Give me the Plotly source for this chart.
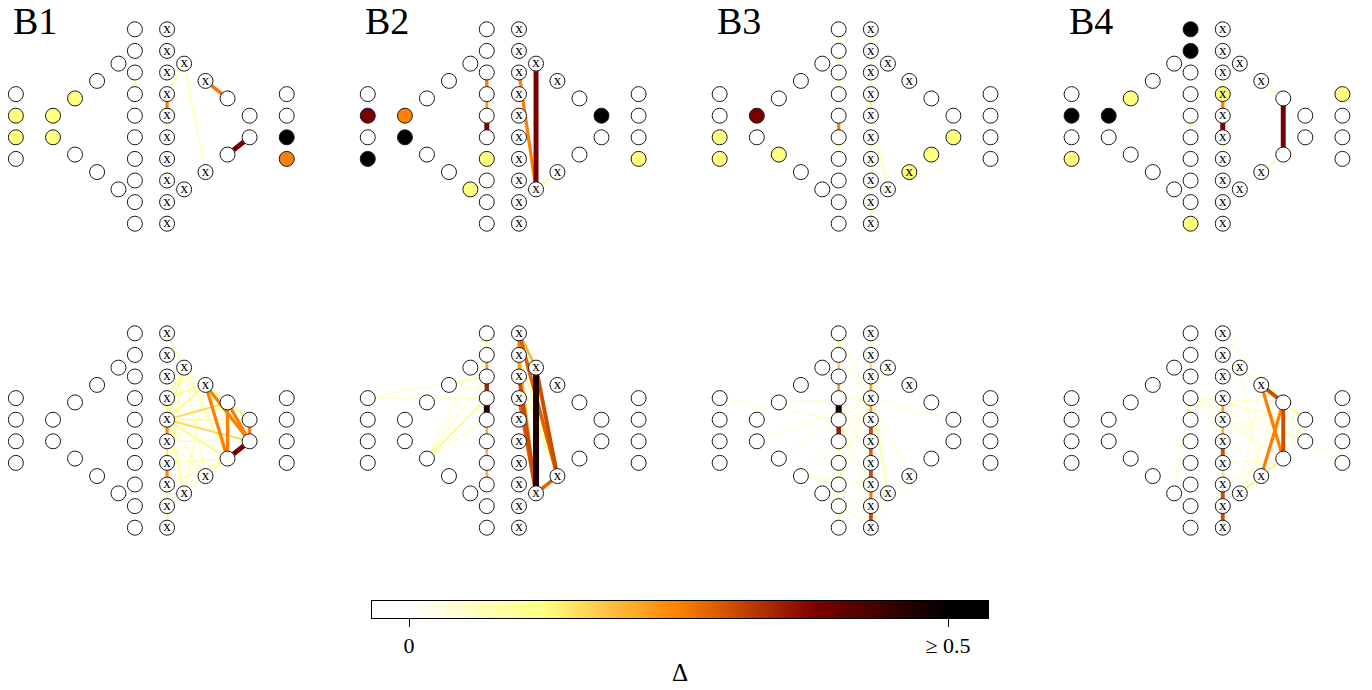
import plotly.graph_objects as go
import numpy as np

W, H = 1372, 690
FONT = "Liberation Serif"

# ---------------- node layout (layout units, y grows downward) ----------------
node_names = ['A0', 'A1', 'A2', 'A3', 'B0', 'B1',
              'Lt1', 'Lt2', 'Lt3', 'Lb1', 'Lb2', 'Lb3',
              'C0', 'C1', 'C2', 'C3', 'C4', 'C5', 'C6', 'C7', 'C8', 'C9',
              'D0', 'D1', 'D2', 'D3', 'D4', 'D5', 'D6', 'D7', 'D8', 'D9',
              'Rt3', 'Rt2', 'Rb2', 'Rb3', 'Rt1', 'Rb1', 'R0', 'R1',
              'E0', 'E1', 'E2', 'E3']
node_x = [-6.27, -6.27, -6.27, -6.27, -4.55, -4.55,
          -3.53, -2.51, -1.52, -3.53, -2.51, -1.52,
          -0.76, -0.76, -0.76, -0.76, -0.76, -0.76, -0.76, -0.76, -0.76, -0.76,
          0.73, 0.73, 0.73, 0.73, 0.73, 0.73, 0.73, 0.73, 0.73, 0.73,
          1.52, 2.51, 2.51, 1.52, 3.53, 3.53, 4.55, 4.55,
          6.27, 6.27, 6.27, 6.27]
node_y = [-1.5, -0.5, 0.5, 1.5, -0.5, 0.5,
          -1.3, -2.11, -2.91, 1.3, 2.11, 2.91,
          -4.5, -3.5, -2.5, -1.5, -0.5, 0.5, 1.5, 2.5, 3.5, 4.5,
          -4.5, -3.5, -2.5, -1.5, -0.5, 0.5, 1.5, 2.5, 3.5, 4.5,
          -2.91, -2.11, 2.11, 2.91, -1.3, 1.3, -0.5, 0.5,
          -1.5, -0.5, 0.5, 1.5]
node_is_x = ['D0', 'D1', 'D2', 'D3', 'D4', 'D5', 'D6', 'D7', 'D8', 'D9',
             'Rt3', 'Rt2', 'Rb2', 'Rb3']

# ---------------- panel data: node deltas and edge deltas ----------------
panel_labels = ['B1', 'B2', 'B3', 'B4']

b1_top_nodes = {'A1': 0.125, 'A2': 0.125, 'B0': 0.125, 'B1': 0.125, 'Lt1': 0.125,
                'E2': 0.5, 'E3': 0.25}
b1_top_edges = [('C2', 'C3', 0.1), ('D3', 'D4', 0.25), ('D4', 'D5', 0.1), ('D6', 'D7', 0.1),
                ('Rt3', 'D3', 0.1), ('Rt3', 'Rb2', 0.1), ('Rt2', 'Rt1', 0.26),
                ('R0', 'R1', 0.1), ('R1', 'Rb1', 0.38)]

b1_bot_nodes = {}
b1_bot_edges = [('C0', 'C1', 0.08), ('C2', 'C3', 0.08), ('D0', 'Rt3', 0.1),
                ('D3', 'D4', 0.13), ('D4', 'D5', 0.24), ('D5', 'D6', 0.15), ('D6', 'D7', 0.24),
                ('D7', 'D8', 0.13), ('D8', 'D9', 0.11),
                ('Rt3', 'D2', 0.1), ('Rt3', 'D3', 0.12), ('Rt3', 'D4', 0.13), ('Rt3', 'D6', 0.09),
                ('Rt3', 'D7', 0.09), ('Rt3', 'Rb2', 0.09), ('Rt3', 'Rb1', 0.11), ('Rt3', 'R1', 0.09),
                ('Rt2', 'D3', 0.12), ('Rt2', 'D4', 0.13), ('Rt2', 'Rb1', 0.25), ('Rt2', 'R1', 0.25),
                ('Rt2', 'Rt1', 0.12), ('Rt1', 'Rb1', 0.25), ('Rt1', 'R1', 0.25), ('Rt1', 'R0', 0.13),
                ('Rt1', 'D4', 0.16), ('D4', 'R1', 0.16), ('D4', 'R0', 0.12), ('D4', 'Rb1', 0.13),
                ('D4', 'Rb3', 0.1), ('D4', 'Rb2', 0.09), ('D5', 'R1', 0.1), ('D6', 'Rb1', 0.09),
                ('D7', 'Rb1', 0.1), ('D5', 'Rt1', 0.09), ('Rb3', 'Rb1', 0.09), ('Rb3', 'D3', 0.09),
                ('Rb2', 'Rb1', 0.1), ('Rb2', 'D5', 0.09), ('Rb3', 'Rt2', 0.09), ('Rb1', 'D8', 0.09),
                ('R0', 'R1', 0.25), ('R1', 'Rb1', 0.38), ('R1', 'E1', 0.07)]

b2_top_nodes = {'A1': 0.38, 'A3': 0.5, 'B0': 0.25, 'B1': 0.5, 'C6': 0.125, 'Lb3': 0.125,
                'R0': 0.5, 'E3': 0.125}
b2_top_edges = [('C2', 'C3', 0.25), ('C3', 'C4', 0.22), ('C4', 'C5', 0.38),
                ('D2', 'Rb3', 0.25), ('Rt3', 'Rb3', 0.38), ('Rb3', 'Rb2', 0.12)]

b2_bot_nodes = {}
b2_bot_edges = [('A0', 'C2', 0.07), ('A0', 'C3', 0.07), ('Lt2', 'C2', 0.07),
                ('Lb1', 'C0', 0.07), ('Lb1', 'C1', 0.07), ('Lb1', 'C2', 0.08), ('Lb1', 'C3', 0.13),
                ('Lb1', 'C4', 0.08),
                ('C0', 'C1', 0.12), ('C1', 'C2', 0.22), ('C2', 'C3', 0.34), ('C3', 'C4', 0.46),
                ('C4', 'C5', 0.2), ('C5', 'C6', 0.2), ('C6', 'C7', 0.2),
                ('D0', 'D1', 0.25), ('D1', 'D2', 0.22), ('D0', 'Rt3', 0.2), ('D1', 'Rt3', 0.15),
                ('D0', 'Rb2', 0.28), ('D1', 'Rb2', 0.12), ('D2', 'Rb2', 0.12), ('D1', 'Rb3', 0.2),
                ('D2', 'Rb3', 0.3), ('D3', 'Rb3', 0.28), ('Rt3', 'Rb3', 0.47), ('Rt3', 'Rb2', 0.3),
                ('Rb3', 'Rb2', 0.28)]

b3_top_nodes = {'A2': 0.125, 'A3': 0.125, 'B0': 0.38, 'Lb1': 0.125, 'Rb2': 0.125,
                'Rb1': 0.125, 'R1': 0.125}
b3_top_edges = [('C0', 'C1', 0.1), ('C1', 'C2', 0.1), ('C2', 'C3', 0.1), ('C4', 'C5', 0.25),
                ('C5', 'C6', 0.1), ('D0', 'D1', 0.1), ('D1', 'D2', 0.1), ('D2', 'D3', 0.1),
                ('D3', 'D4', 0.14), ('D5', 'D6', 0.1), ('D6', 'D7', 0.1), ('D7', 'D8', 0.1),
                ('D8', 'D9', 0.1), ('D4', 'Rb3', 0.1)]

b3_bot_nodes = {}
b3_bot_edges = [('A0', 'C4', 0.06), ('Lt1', 'D3', 0.06), ('B1', 'D3', 0.06), ('Lb1', 'D3', 0.06),
                ('Lb2', 'D3', 0.06), ('Lb2', 'D7', 0.06), ('Lb3', 'D9', 0.06), ('Lb2', 'C7', 0.06),
                ('C0', 'D3', 0.06), ('C1', 'D3', 0.06), ('C2', 'D3', 0.06), ('C5', 'D3', 0.06),
                ('C6', 'D3', 0.06), ('C7', 'D3', 0.06), ('C7', 'D9', 0.06), ('C8', 'D9', 0.06),
                ('C6', 'D8', 0.06), ('C4', 'D7', 0.06), ('C3', 'D6', 0.06), ('C4', 'D8', 0.06),
                ('D3', 'R0', 0.06), ('D3', 'Rb2', 0.06), ('D3', 'Rb3', 0.1), ('D2', 'Rb3', 0.08),
                ('D3', 'Rt3', 0.06), ('Rb2', 'D9', 0.06), ('Rb3', 'D9', 0.06),
                ('C0', 'C1', 0.12), ('C1', 'C2', 0.18), ('C2', 'C3', 0.22), ('C3', 'C4', 0.48),
                ('C4', 'C5', 0.35), ('C5', 'C6', 0.12), ('C6', 'C7', 0.12), ('C7', 'C8', 0.1),
                ('C8', 'C9', 0.1),
                ('D0', 'D1', 0.12), ('D1', 'D2', 0.16), ('D2', 'D3', 0.22), ('D3', 'D4', 0.22),
                ('D4', 'D5', 0.3), ('D5', 'D6', 0.28), ('D6', 'D7', 0.3), ('D7', 'D8', 0.25),
                ('D8', 'D9', 0.3)]

b4_top_nodes = {'C0': 0.5, 'C1': 0.5, 'C9': 0.125, 'A1': 0.5, 'A3': 0.125, 'B0': 0.5,
                'Lt1': 0.125, 'D3': 0.125, 'E0': 0.125}
b4_top_edges = [('C4', 'C5', 0.1), ('D2', 'D3', 0.1), ('D3', 'D4', 0.25), ('D4', 'D5', 0.38),
                ('D5', 'D6', 0.1), ('Rt2', 'Rt1', 0.1), ('Rt1', 'Rb1', 0.38), ('Rb1', 'Rb2', 0.1)]

b4_bot_nodes = {}
b4_bot_edges = [('D3', 'D4', 0.22), ('D4', 'D5', 0.2), ('D5', 'D6', 0.3), ('D6', 'D7', 0.15),
                ('D7', 'D8', 0.3), ('D8', 'D9', 0.3), ('C3', 'C4', 0.08),
                ('Rt2', 'Rt1', 0.3), ('Rt1', 'Rb1', 0.3), ('Rt2', 'Rb1', 0.25), ('Rb2', 'Rt1', 0.25),
                ('Rt1', 'R0', 0.13), ('Rb1', 'Rb2', 0.14), ('Rb2', 'Rb3', 0.14),
                ('D0', 'Rt1', 0.07), ('Rt3', 'Rt1', 0.07), ('D1', 'Rt2', 0.07),
                ('C3', 'R0', 0.07), ('C3', 'R1', 0.07), ('C3', 'Rb1', 0.07), ('C3', 'Rt1', 0.07),
                ('C3', 'Lb3', 0.07), ('C3', 'Rb2', 0.07), ('R1', 'E3', 0.07), ('D4', 'R1', 0.07),
                ('D3', 'R1', 0.07), ('D4', 'Rb1', 0.07), ('Rb3', 'Rt2', 0.07), ('Rb3', 'Rt1', 0.07),
                ('Rb2', 'Rt3', 0.07), ('D6', 'Rb1', 0.07), ('D7', 'Rb1', 0.07), ('D5', 'Rt1', 0.07),
                ('Rt2', 'R1', 0.07), ('Rt1', 'R1', 0.07), ('Rb1', 'R0', 0.07), ('Rb3', 'D7', 0.07)]

panels_top = [(b1_top_nodes, b1_top_edges), (b2_top_nodes, b2_top_edges),
              (b3_top_nodes, b3_top_edges), (b4_top_nodes, b4_top_edges)]
panels_bot = [(b1_bot_nodes, b1_bot_edges), (b2_bot_nodes, b2_bot_edges),
              (b3_bot_nodes, b3_bot_edges), (b4_bot_nodes, b4_bot_edges)]

cbar_ticks = [0, 0.5]
cbar_ticktext = ['0', '≥ 0.5']
DMAX = 0.5


# ---------------- helpers ----------------
def afmhot_r(d):
    t = min(max(d / DMAX, 0.0), 1.0)
    a = 1.0 - t
    r = min(max(2 * a, 0), 1)
    g = min(max(2 * a - 0.5, 0), 1)
    b = min(max(2 * a - 1.0, 0), 1)
    return f'rgb({round(r * 255)},{round(g * 255)},{round(b * 255)})'


def edge_width(d):
    return min(max(1.0, 13 * d), 6.0)


pos = {n: (x, y) for n, x, y in zip(node_names, node_x, node_y)}

# layout geometry (pixels)
PX = 21.6            # pixels per layout unit
CX0, DXP = 151.3, 351.9
CY0, DYP = 126.5, 304.0
HW, HH = 150.0, 110.0

fig = go.Figure()
layout = dict(width=W, height=H, margin=dict(l=0, r=0, t=0, b=0),
              paper_bgcolor='white', plot_bgcolor='white', showlegend=False,
              font=dict(family=FONT, color='black'))
annotations = []

ax = 0
for r, plist in enumerate([panels_top, panels_bot]):
    for i, (ndict, edges) in enumerate(plist):
        ax += 1
        sfx = '' if ax == 1 else str(ax)
        cx = CX0 + DXP * i
        cy = CY0 + DYP * r
        layout['xaxis' + sfx] = dict(domain=[(cx - HW) / W, (cx + HW) / W], anchor='y' + sfx,
                                     range=[-HW / PX, HW / PX], visible=False, fixedrange=True)
        layout['yaxis' + sfx] = dict(domain=[1 - (cy + HH) / H, 1 - (cy - HH) / H], anchor='x' + sfx,
                                     range=[HH / PX, -HH / PX], visible=False, fixedrange=True)
        xa, ya = 'x' + sfx, 'y' + sfx
        for a, b, d in sorted(edges, key=lambda e: e[2]):
            fig.add_trace(go.Scatter(x=[pos[a][0], pos[b][0]], y=[pos[a][1], pos[b][1]],
                                     mode='lines', line=dict(color=afmhot_r(d), width=edge_width(d)),
                                     hoverinfo='skip', xaxis=xa, yaxis=ya, cliponaxis=False))
        plain = [n for n in node_names if n not in node_is_x]
        xs = [n for n in node_names if n in node_is_x]
        fig.add_trace(go.Scatter(x=[pos[n][0] for n in plain], y=[pos[n][1] for n in plain],
                                 mode='markers',
                                 marker=dict(size=15, color=[afmhot_r(ndict.get(n, 0)) for n in plain],
                                             line=dict(color='#1a1a1a', width=1)),
                                 hoverinfo='skip', xaxis=xa, yaxis=ya, cliponaxis=False))
        fig.add_trace(go.Scatter(x=[pos[n][0] for n in xs], y=[pos[n][1] for n in xs],
                                 mode='markers+text', text=['x'] * len(xs),
                                 textposition='middle center',
                                 textfont=dict(family=FONT, size=15, color='black'),
                                 marker=dict(size=15, color=[afmhot_r(ndict.get(n, 0)) for n in xs],
                                             line=dict(color='#1a1a1a', width=1)),
                                 hoverinfo='skip', xaxis=xa, yaxis=ya, cliponaxis=False))
        if r == 0:
            annotations.append(dict(text=panel_labels[i], xref='paper', yref='paper',
                                    x=(cx - 140) / W, y=1 - 21 / H, xanchor='left', yanchor='middle',
                                    showarrow=False, font=dict(family=FONT, size=38, color='black')))

# ---------------- colour bar as its own axis ----------------
CB_L, CB_R, CB_T, CB_B = 372, 988, 601, 618
cb_lo = (CB_L - 409) / (948 - 409) * 0.5
cb_hi = (CB_R - 409) / (948 - 409) * 0.5
grad = np.linspace(cb_lo, cb_hi, 400)
cscale = [[s, afmhot_r(s * DMAX)] for s in np.linspace(0, 1, 41)]
fig.add_trace(go.Heatmap(x=grad, y=[0], z=[grad], zmin=0, zmax=DMAX, colorscale=cscale,
                         showscale=False, hoverinfo='skip', xaxis='x9', yaxis='y9'))
layout['xaxis9'] = dict(domain=[CB_L / W, CB_R / W], anchor='y9', range=[cb_lo, cb_hi],
                        showline=True, mirror=True, linecolor='black', linewidth=1,
                        ticks='outside', tickvals=cbar_ticks, ticktext=cbar_ticktext,
                        ticklen=8, tickwidth=1, tickcolor='black',
                        tickfont=dict(family=FONT, size=22, color='black'),
                        showgrid=False, zeroline=False, fixedrange=True,
                        title=dict(text='Δ', font=dict(family=FONT, size=25, color='black'), standoff=6))
layout['yaxis9'] = dict(domain=[1 - CB_B / H, 1 - CB_T / H], anchor='x9', range=[-0.5, 0.5],
                        showline=True, mirror=True, linecolor='black', linewidth=1,
                        ticks='', showticklabels=False, showgrid=False, zeroline=False, fixedrange=True)

layout['annotations'] = annotations
fig.update_layout(**layout)
fig.write_html("out.html")
